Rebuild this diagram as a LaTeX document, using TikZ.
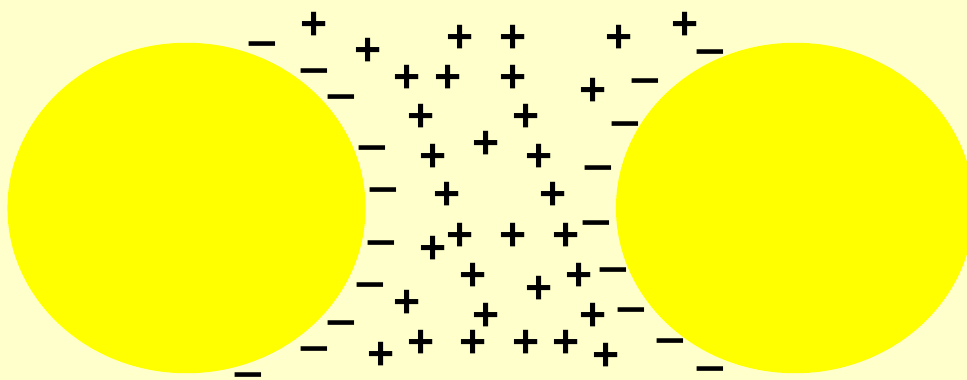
\documentclass[tikz,border=0pt]{standalone}
\usepackage{fontspec}
\setmainfont{Liberation Sans}
\usepackage{xcolor}
\usetikzlibrary{positioning}
\definecolor{paleyellow}{RGB}{255,255,204}
\definecolor{sunyellow}{RGB}{255,255,0}
\newcommand{\longdash}{\scalebox{1.15}[1]{\textendash}}

\begin{document}
\begin{tikzpicture}[
    x=0.025cm, y=-0.025cm,
    sphere/.style={fill=sunyellow},
    charge/.style={inner sep=0pt, outer sep=0pt, text depth=0pt,
      font=\fontsize{33}{33}\selectfont\bfseries},
    plussign/.style={charge, text height=23.1pt},
    minussign/.style={charge, text height=17.6pt}
]
\path[use as bounding box, clip] (0,0) rectangle (967,380);
\fill[paleyellow] (0,0) rectangle (967,380);
% the two spheres
\fill[sphere] (186.5,208) ellipse [x radius=4.475cm, y radius=4.13cm];
\fill[sphere] (795,208) ellipse [x radius=4.475cm, y radius=4.13cm];
% positive charges in the gap
\foreach \x/\y [count=\i] in {314/23,368/49,460/36,513/36,619/36,685/23,
    407/76,448/76,513/76,593/89,421/115,526/115,486/142,433/155,539/155,
    447/193,553/193,433/247,460/234,513/234,566/234,473/274,579/274,
    539/287,407/301,486/314,593/314,381/353,421/341,473/341,526/341,
    566/341,606/354}{
  \node[plussign] (p\i) at (\x,\y) {+};
}
% negative charges along the spheres
\foreach \x/\y [count=\i] in {262/44,314/71,341/97,372/148,383/190,
    381/243,370/285,341/323,314/349,248/375,710/52,645/81,625/124,
    598/168,596/223,613/270,631/310,670/341,710/369}{
  \node[minussign] (m\i) at (\x,\y) {\longdash};
}
\end{tikzpicture}
\end{document}
